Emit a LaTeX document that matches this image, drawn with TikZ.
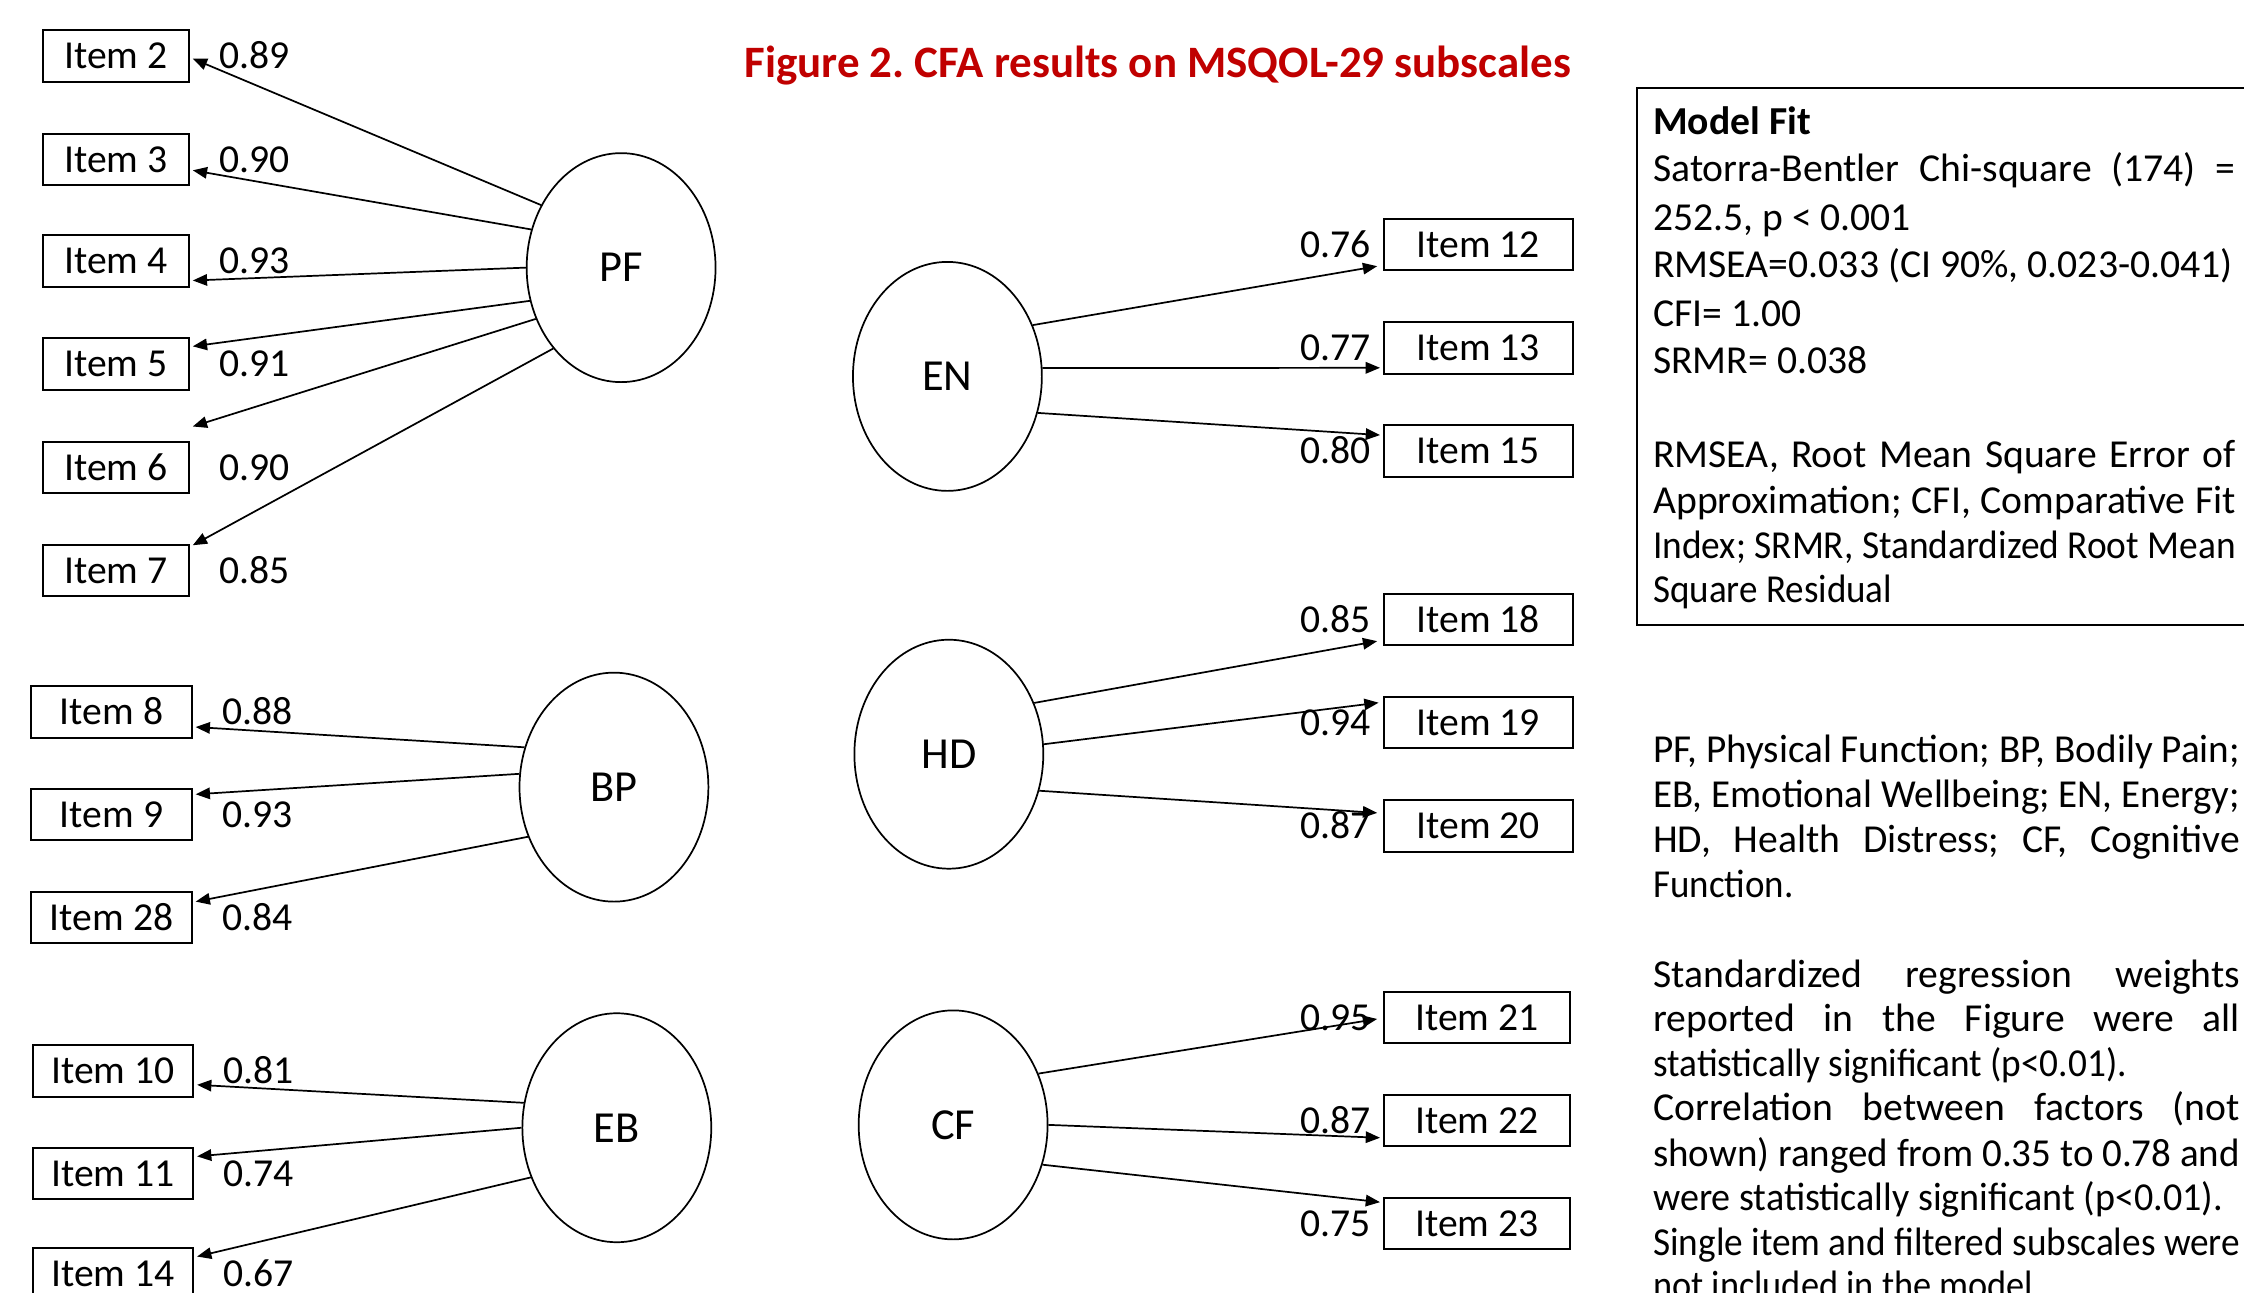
\documentclass[tikz,border=0pt]{standalone}
\usepackage{fontspec}
\usepackage{graphicx}
\setmainfont{Carlito}
\frenchspacing
\usetikzlibrary{shapes.geometric,arrows.meta}
\definecolor{titlered}{RGB}{192,0,0}
\newcommand{\jline}[2]{\sbox0{#2}\ifdim\wd0>#1\relax\resizebox{#1}{\height}{#2}\else\makebox[#1][s]{#2}\fi}
\newcommand{\fitto}[2]{\resizebox{#1}{\height}{#2}}
\begin{document}
\begin{tikzpicture}[x=1pt,y=-1pt,
  item/.style={draw,line width=1.4pt,minimum height=36pt,inner sep=0pt,
    font=\fontsize{27.7}{30}\selectfont,text height=17.8pt,text depth=0pt},
  factor/.style={draw,ellipse,line width=1.2pt,minimum width=132pt,minimum height=160pt,
    inner sep=0pt,font=\fontsize{31}{34}\selectfont,text height=20pt,text depth=0pt},
  wt/.style={inner sep=0pt,font=\fontsize{27.7}{30}\selectfont,text height=17.8pt,text depth=0pt},
  load/.style={-{Triangle[length=10pt,width=8pt]},line width=1.2pt},
  txt/.style={anchor=base west,inner sep=0pt,font=\fontsize{27.7}{30}\selectfont},
]
\useasboundingbox (0,0) rectangle (1568,903);
\clip (0,0) rectangle (1568,903);
\fill[white] (0,0) rectangle (1568,903);

% title
\node[inner sep=0pt,font=\bfseries\fontsize{31.4}{34}\selectfont,text=titlered,
  text height=20.2pt,text depth=0pt] (title) at (809,44) {Figure 2. CFA results on MSQOL-29 subscales};

% factors
\node[factor] (pf) at (434,187) {PF};
\node[factor] (bp) at (429,550) {BP};
\node[factor] (eb) at (431,788) {EB};
\node[factor] (en) at (662,263) {EN};
\node[factor] (hd) at (663,527) {HD};
\node[factor] (cf) at (666,786) {CF};

% PF items
\node[item,minimum width=102pt] (i2) at (81,39) {Item 2};
\node[item,minimum width=102pt] (i3) at (81,111.5) {Item 3};
\node[item,minimum width=102pt] (i4) at (81,182.5) {Item 4};
\node[item,minimum width=102pt] (i5) at (81,254.5) {Item 5};
\node[item,minimum width=102pt] (i6) at (81,326.5) {Item 6};
\node[item,minimum width=102pt] (i7) at (81,398.5) {Item 7};
% BP items
\node[item,minimum width=112pt] (i8) at (78,497.5) {Item 8};
\node[item,minimum width=112pt] (i9) at (78,569) {Item 9};
\node[item,minimum width=112pt] (i28) at (78,641) {Item 28};
% EB items
\node[item,minimum width=112pt] (i10) at (79,748.5) {Item 10};
\node[item,minimum width=112pt] (i11) at (79,820) {Item 11};
\node[item,minimum width=112pt] (i14) at (79,890) {Item 14};
% EN items
\node[item,minimum width=132pt] (i12) at (1033,171) {Item 12};
\node[item,minimum width=132pt] (i13) at (1033,243) {Item 13};
\node[item,minimum width=132pt] (i15) at (1033,315) {Item 15};
% HD items
\node[item,minimum width=132pt] (i18) at (1033,433) {Item 18};
\node[item,minimum width=132pt] (i19) at (1033,505) {Item 19};
\node[item,minimum width=132pt] (i20) at (1033,577) {Item 20};
% CF items
\node[item,minimum width=130pt] (i21) at (1032,711) {Item 21};
\node[item,minimum width=130pt] (i22) at (1032,783) {Item 22};
\node[item,minimum width=130pt] (i23) at (1032,855) {Item 23};

% weights left
\node[wt,anchor=west] (w2) at (153,39) {0.89};
\node[wt,anchor=west] (w3) at (153,111.5) {0.90};
\node[wt,anchor=west] (w4) at (153,182.5) {0.93};
\node[wt,anchor=west] (w5) at (153,254.5) {0.91};
\node[wt,anchor=west] (w6) at (153,326.5) {0.90};
\node[wt,anchor=west] (w7) at (153,398.5) {0.85};
\node[wt,anchor=west] (w8) at (155,497.5) {0.88};
\node[wt,anchor=west] (w9) at (155,569) {0.93};
\node[wt,anchor=west] (w28) at (155,641) {0.84};
\node[wt,anchor=west] (w10) at (156,748.5) {0.81};
\node[wt,anchor=west] (w11) at (156,820) {0.74};
\node[wt,anchor=west] (w14) at (156,890) {0.67};
% weights right
\node[wt,anchor=east] (w12) at (958,171) {0.76};
\node[wt,anchor=east] (w13) at (958,243) {0.77};
\node[wt,anchor=east] (w15) at (958,315) {0.80};
\node[wt,anchor=east] (w18) at (958,433) {0.85};
\node[wt,anchor=east] (w19) at (958,505) {0.94};
\node[wt,anchor=east] (w20) at (958,577) {0.87};
\node[wt,anchor=east] (w21) at (958,711) {0.95};
\node[wt,anchor=east] (w22) at (958,783) {0.87};
\node[wt,anchor=east] (w23) at (958,855) {0.75};

% loadings PF
\draw[load] (pf.142) -- ([xshift=2pt,yshift=-2pt]i2.east);
\draw[load] (pf.157) -- ([xshift=2pt,yshift=-7.5pt]i3.east);
\draw[load] (pf.180) -- ([xshift=2pt,yshift=-13.5pt]i4.east);
\draw[load] (pf.200) -- ([xshift=2pt,yshift=12.5pt]i5.east);
\draw[load] (pf.211) -- ([xshift=2pt,yshift=28.5pt]i6.east);
\draw[load] (pf.230) -- ([xshift=2pt,yshift=17.5pt]i7.east);
% BP
\draw[load] (bp.156) -- ([xshift=2pt,yshift=-10.5pt]i8.east);
\draw[load] (bp.172) -- ([xshift=2pt,yshift=14pt]i9.east);
\draw[load] (bp.210) -- ([xshift=2pt,yshift=11pt]i28.east);
% EB
\draw[load] (eb.165) -- ([xshift=2pt,yshift=-9.5pt]i10.east);
\draw[load] (eb.180) -- ([xshift=2pt,yshift=12pt]i11.east);
\draw[load] (eb.210) -- ([xshift=2pt,yshift=12pt]i14.east);
% EN
\draw[load] (en.31) -- ([xshift=-4pt,yshift=-15pt]i12.west);
\draw[load] (en.5) -- ([xshift=-2pt,yshift=-14pt]i13.west);
\draw[load] (en.-22) -- ([xshift=-2pt,yshift=11pt]i15.west);
% HD
\draw[load] (hd.31) -- ([xshift=-4pt,yshift=-15pt]i18.west);
\draw[load] (hd.6) -- ([xshift=-3pt,yshift=14pt]i19.west);
\draw[load] (hd.-22) -- ([xshift=-4pt,yshift=9pt]i20.west);
% CF
\draw[load] (cf.31) -- ([xshift=-4pt,yshift=-1pt]i21.west);
\draw[load] (cf.0) -- ([xshift=-2pt,yshift=-12pt]i22.west);
\draw[load] (cf.-24) -- ([xshift=-2pt,yshift=15pt]i23.west);

% model fit box
\node[draw,line width=1.5pt,anchor=north west,minimum width=460pt,minimum height=375pt,inner sep=0pt] (fitbox) at (1143,61) {};
\node[txt,font=\bfseries\fontsize{27.7}{30}\selectfont] (m1) at (1155,94) {Model Fit};
\node[txt] (m2) at (1155,127) {\jline{407pt}{Satorra-Bentler Chi-square (174) =}};
\node[txt] (m3) at (1155,161) {\fitto{180pt}{252.5, p < 0.001}};
\node[txt] (m4) at (1155,194) {\fitto{405pt}{RMSEA=0.033 (CI 90\%, 0.023-0.041)}};
\node[txt] (m5) at (1155,228) {CFI= 1.00};
\node[txt] (m6) at (1155,261) {SRMR= 0.038};
\node[txt] (m7) at (1155,327) {\jline{407pt}{RMSEA, Root Mean Square Error of}};
\node[txt] (m8) at (1155,359) {\jline{407pt}{Approximation; CFI, Comparative Fit}};
\node[txt] (m9) at (1155,390) {\jline{407pt}{Index; SRMR, Standardized Root Mean}};
\node[txt] (m10) at (1155,421) {\fitto{167pt}{Square Residual}};

% notes
\node[txt] (n1) at (1155,533) {\jline{410pt}{PF, Physical Function; BP, Bodily Pain;}};
\node[txt] (n2) at (1155,564) {\jline{410pt}{EB, Emotional Wellbeing; EN, Energy;}};
\node[txt] (n3) at (1155,596) {\jline{410pt}{HD, Health Distress; CF, Cognitive}};
\node[txt] (n4) at (1155,627) {\fitto{98pt}{Function.}};
\node[txt] (n5) at (1155,690) {\jline{410pt}{Standardized regression weights}};
\node[txt] (n6) at (1155,721) {\jline{410pt}{reported in the Figure were all}};
\node[txt] (n7) at (1155,752) {\fitto{331pt}{statistically significant (p<0.01).}};
\node[txt] (n8) at (1155,783) {\jline{410pt}{Correlation between factors (not}};
\node[txt] (n9) at (1155,815) {\jline{410pt}{shown) ranged from 0.35 to 0.78 and}};
\node[txt] (n10) at (1155,846) {\fitto{398pt}{were statistically significant (p<0.01).}};
\node[txt] (n11) at (1155,877) {\jline{410pt}{Single item and filtered subscales were}};
\node[txt] (n12) at (1155,907) {\fitto{272pt}{not included in the model.}};
\end{tikzpicture}
\end{document}
